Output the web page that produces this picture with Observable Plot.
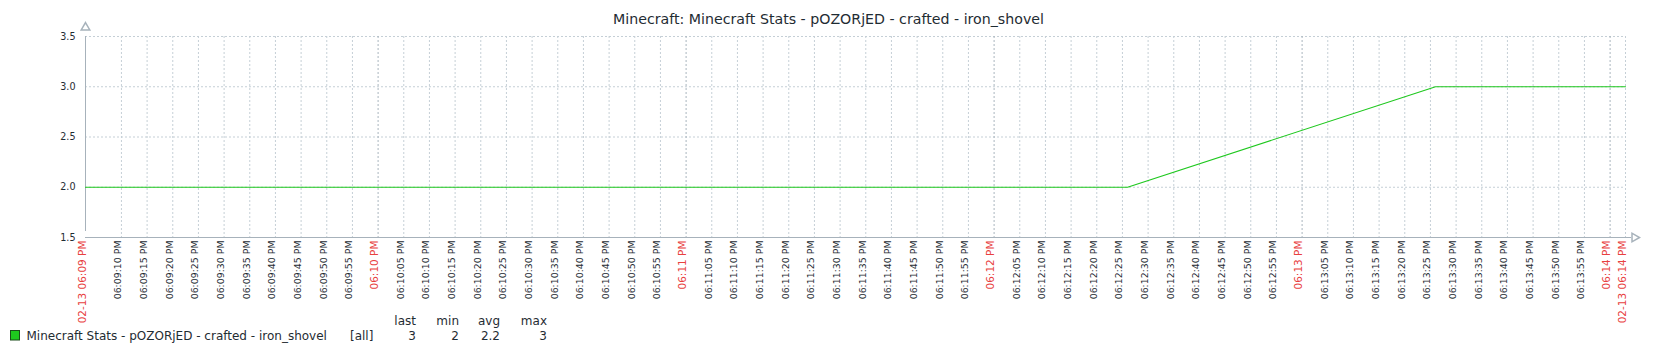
<!DOCTYPE html>
<html>
<head>
<meta charset="utf-8">
<script src="https://cdn.jsdelivr.net/npm/d3@7"></script>
<script src="https://cdn.jsdelivr.net/npm/@observablehq/plot@0.6"></script>
<style>
  html, body { margin: 0; padding: 0; background: #fff; }
  #chart { position: relative; width: 1656px; height: 354px; overflow: hidden; }
  svg { display: block; }
</style>
</head>
<body>
<div id="chart"></div>
<script>
// ---- data ----
const titleText = "Minecraft: Minecraft Stats - pOZORjED - crafted - iron_shovel";
const seriesName = "Minecraft Stats - pOZORjED - crafted - iron_shovel";
const seriesFunc = "[all]";
const rangeStart = "2024-02-13 18:09:03";
const rangeEnd = "2024-02-13 18:14:03";
const sampleTimes = ["2024-02-13 18:09:26", "2024-02-13 18:10:26", "2024-02-13 18:11:26", "2024-02-13 18:12:26", "2024-02-13 18:13:26"];
const sampleValues = [2, 2, 2, 2, 3];
const yTicks = [1.5, 2.0, 2.5, 3.0, 3.5];
const legendHeaders = ["last", "min", "avg", "max"];

// ---- derived ----
const parse = d3.timeParse("%Y-%m-%d %H:%M:%S");
const t0 = parse(rangeStart), t1 = parse(rangeEnd);
const samples = sampleTimes.map((t, i) => ({time: parse(t), value: sampleValues[i]}));
const lineData = [{time: t0, value: samples[0].value}, ...samples, {time: t1, value: samples[samples.length - 1].value}];

const allTicks = d3.timeSecond.every(5).range(d3.timeSecond.offset(t0, 5), t1);
const minuteTicks = allTicks.filter(d => d.getSeconds() === 0);
const minorTicks = allTicks.filter(d => d.getSeconds() !== 0);

const fmtMinor = d3.timeFormat("%I:%M:%S %p");
const fmtMinute = d3.timeFormat("%I:%M %p");
const fmtEdge = d3.timeFormat("%m-%d %I:%M %p");

const gridColor = "#c5cfd6";
const gridDark = "#a9b5be";
const axisColor = "#a7b2bb";
const red = "#e8413f";
const green = "#1ec81e";
const textColor = "#1f2c33";

const plot = Plot.plot({
  width: 1656,
  height: 354,
  marginLeft: 85,
  marginRight: 31,
  marginTop: 36,
  marginBottom: 117,
  style: {fontFamily: "DejaVu Sans", color: textColor, background: "#fff"},
  x: {type: "time", domain: [t0, t1], axis: null},
  y: {domain: [1.5, 3.5], label: null},
  marks: [
    Plot.ruleY(yTicks.filter(d => d > 1.5), {stroke: gridColor, strokeDasharray: "2,2"}),
    Plot.ruleX(minorTicks, {stroke: gridColor, strokeDasharray: "2,2"}),
    Plot.ruleX(minuteTicks, {stroke: gridDark, strokeDasharray: "2,2"}),
    Plot.ruleX([t1], {stroke: gridColor, strokeDasharray: "2,2"}),
    // axes
    Plot.ruleX([t0], {y1: 1.5, y2: 3.5, stroke: axisColor, insetTop: -6}),
    Plot.ruleY([1.5], {x1: t0, x2: t1, stroke: axisColor, insetRight: -6}),
    Plot.dot([t0], {x: d => d, y: 3.5, symbol: "triangle", r: 3.2, fill: "white", stroke: axisColor, dy: -9}),
    Plot.dot([t1], {x: d => d, y: 1.5, symbol: "triangle", r: 3.2, fill: "white", stroke: axisColor, rotate: 90, dx: 9}),
    // series
    Plot.line(lineData, {x: "time", y: "value", stroke: green, strokeWidth: 1.1}),
    // y labels
    Plot.axisY({ticks: yTicks, tickSize: 0, tickPadding: 10, tickFormat: d3.format(".1f"), fontSize: 9.6, fill: textColor, label: null}),
    // x labels
    Plot.text(minorTicks, {x: d => d, frameAnchor: "bottom", text: d => fmtMinor(d), rotate: -90, textAnchor: "end", dy: 3, fontSize: 9.4, fill: textColor}),
    Plot.text(minuteTicks, {x: d => d, frameAnchor: "bottom", text: d => fmtMinute(d), rotate: -90, textAnchor: "end", dy: 3, fontSize: 10.5, fill: red}),
    Plot.text([t0, t1], {x: d => d, frameAnchor: "bottom", text: d => fmtEdge(d), rotate: -90, textAnchor: "end", dy: 3, fontSize: 10.5, fill: red})
  ]
});

document.getElementById("chart").appendChild(plot);

// title and legend
const svg = d3.select(plot);
svg.append("text")
  .attr("x", 828.5).attr("y", 24)
  .attr("text-anchor", "middle")
  .attr("font-family", "DejaVu Sans")
  .attr("font-size", 14.2)
  .attr("fill", textColor)
  .text(titleText);

const leg = svg.append("g").attr("font-family", "DejaVu Sans").attr("font-size", 12).attr("fill", textColor).attr("text-anchor", "start");
leg.append("rect").attr("x", 10.5).attr("y", 330.5).attr("width", 9).attr("height", 9.5)
  .attr("fill", green).attr("stroke", "#1a4d1a");
leg.append("text").attr("x", 26.5).attr("y", 340).attr("text-anchor", "start").text(seriesName);
leg.append("text").attr("x", 350).attr("y", 340).attr("text-anchor", "start").text(seriesFunc);

const stats = [sampleValues[sampleValues.length - 1], d3.min(sampleValues), d3.mean(sampleValues), d3.max(sampleValues)];
const colEnds = [416, 459, 500, 547];
legendHeaders.forEach((h, i) => {
  leg.append("text").attr("x", colEnds[i]).attr("y", 325).attr("text-anchor", "end").text(h);
  leg.append("text").attr("x", colEnds[i]).attr("y", 340).attr("text-anchor", "end").text(d3.format("~g")(+stats[i].toFixed(2)));
});
</script>
</body>
</html>
